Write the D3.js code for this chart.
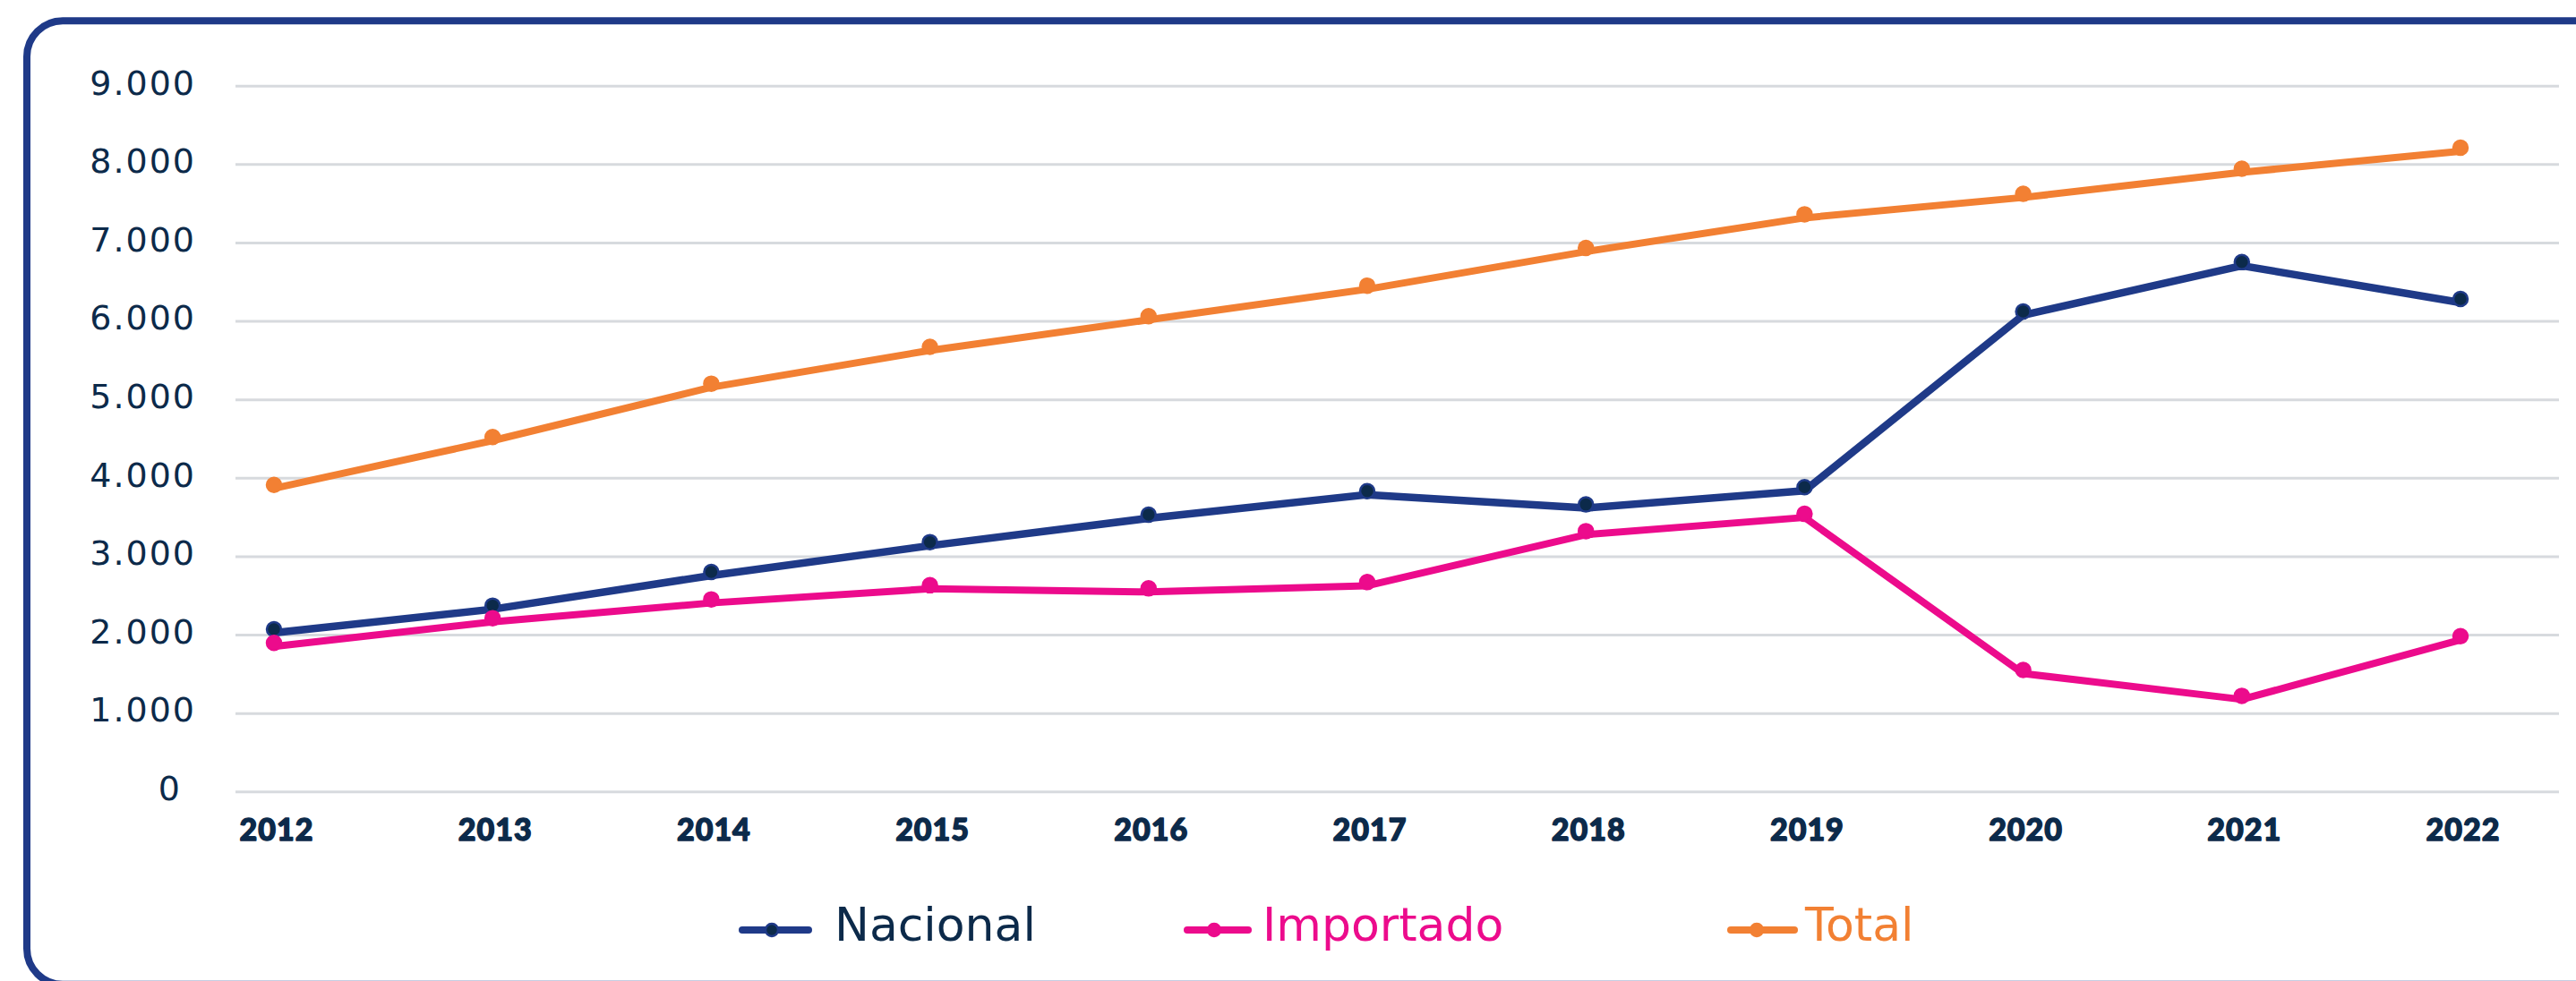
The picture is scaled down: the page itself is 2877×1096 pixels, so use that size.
<!DOCTYPE html>
<html>
<head>
<meta charset="utf-8">
<script src="https://cdn.jsdelivr.net/npm/d3@7"></script>
<style>
  html, body { margin: 0; padding: 0; background: #ffffff; }
  svg { display: block; }
</style>
</head>
<body>
<svg id="chart" width="2877" height="1096"></svg>
<script>
// ---- Data ----
const years = ["2012","2013","2014","2015","2016","2017","2018","2019","2020","2021","2022"];
const nacional  = [2070, 2370, 2800, 3180, 3530, 3830, 3660, 3880, 6120, 6750, 6280];
const importado = [1895, 2210, 2450, 2630, 2590, 2670, 3320, 3540, 1550, 1220, 1980];
const total     = [3910, 4520, 5200, 5670, 6060, 6450, 6930, 7360, 7620, 7940, 8210];
const yTicks    = [0, 1000, 2000, 3000, 4000, 5000, 6000, 7000, 8000, 9000];
const seriesNames = ["Nacional", "Importado", "Total"];

// ---- Styles ----
const NAVY = "#0c2a4a";
const BLUE = "#1f3a88";
const PINK = "#ec0b8c";
const ORANGE = "#f28033";
const GRID = "#d7dade";

const svg = d3.select("#chart");

// Frame
svg.append("rect")
  .attr("x", 30).attr("y", 23.3)
  .attr("width", 2977).attr("height", 1076.5)
  .attr("rx", 40).attr("ry", 40)
  .attr("fill", "none")
  .attr("stroke", BLUE)
  .attr("stroke-width", 8);

// Scales
const x = d3.scalePoint().domain(years).range([306, 2748]);
const y = d3.scaleLinear().domain([0, 9000]).range([884.3, 95.7]);

const loc = d3.formatLocale({decimal: ",", thousands: ".", grouping: [3], currency: ["", ""]});
const fmt = loc.format(",d");

// Y axis with gridlines
const gridLeft = 263, gridRight = 2858;
const yAxis = d3.axisLeft(y)
  .tickValues(yTicks)
  .tickSize(-(gridRight - gridLeft))
  .tickPadding(44)
  .tickFormat(fmt);

const gy = svg.append("g")
  .attr("transform", `translate(${gridLeft},0)`)
  .call(yAxis);
gy.select(".domain").remove();
gy.selectAll(".tick line")
  .attr("stroke", GRID)
  .attr("stroke-width", 3);
gy.selectAll(".tick text")
  .attr("fill", NAVY)
  .attr("font-family", "'DejaVu Sans', sans-serif")
  .attr("font-size", 38)
  .attr("letter-spacing", 2)
  .attr("dy", "0.245em")
  .attr("dx", d => d === 0 ? -16 : 0);

// X labels
svg.append("g").selectAll("text")
  .data(years)
  .join("text")
  .attr("x", d => x(d) + 3)
  .attr("y", 939)
  .attr("text-anchor", "middle")
  .attr("fill", NAVY)
  .attr("stroke", NAVY)
  .attr("stroke-width", 1.4)
  .attr("stroke-linejoin", "round")
  .attr("font-family", "Lato, 'Liberation Sans', sans-serif")
  .attr("font-weight", 900)
  .attr("font-size", 34)
  .attr("letter-spacing", 1)
  .text(d => d);

// Series
const series = [
  {name: seriesNames[0], values: nacional,  color: BLUE,   fill: NAVY,   width: 8.5},
  {name: seriesNames[1], values: importado, color: PINK,   fill: PINK,   width: 8},
  {name: seriesNames[2], values: total,     color: ORANGE, fill: ORANGE, width: 8}
];

const line = d3.line()
  .x((d, i) => x(years[i]))
  .y(d => y(d));

series.forEach(s => {
  const g = svg.append("g");
  g.append("path")
    .datum(s.values)
    .attr("d", line)
    .attr("transform", "translate(0,4)")
    .attr("fill", "none")
    .attr("stroke", s.color)
    .attr("stroke-width", s.width)
    .attr("stroke-linejoin", "round")
    .attr("stroke-linecap", "round");
  g.selectAll("circle")
    .data(s.values)
    .join("circle")
    .attr("cx", (d, i) => x(years[i]))
    .attr("cy", d => y(d))
    .attr("r", 8)
    .attr("fill", s.fill)
    .attr("stroke", s.color)
    .attr("stroke-width", 2.5);
});

// Legend
const legendPos = [
  {lx1: 829, lx2: 903, mx: 862, tx: 932, text: NAVY},
  {lx1: 1326, lx2: 1394, mx: 1356, tx: 1410, text: PINK},
  {lx1: 1933, lx2: 2004, mx: 1962, tx: 2016, text: ORANGE}
];
const lg = svg.append("g");
series.forEach((s, i) => {
  const p = legendPos[i];
  lg.append("line")
    .attr("x1", p.lx1).attr("x2", p.lx2)
    .attr("y1", 1039).attr("y2", 1039)
    .attr("stroke", s.color)
    .attr("stroke-width", 8)
    .attr("stroke-linecap", "round");
  lg.append("circle")
    .attr("cx", p.mx).attr("cy", 1039)
    .attr("r", 7)
    .attr("fill", s.fill)
    .attr("stroke", s.color)
    .attr("stroke-width", 2.5);
  lg.append("text")
    .attr("x", p.tx).attr("y", 1050.5)
    .attr("fill", p.text)
    .attr("font-family", "'DejaVu Sans', sans-serif")
    .attr("font-size", 52)
    .text(s.name);
});
</script>
</body>
</html>
